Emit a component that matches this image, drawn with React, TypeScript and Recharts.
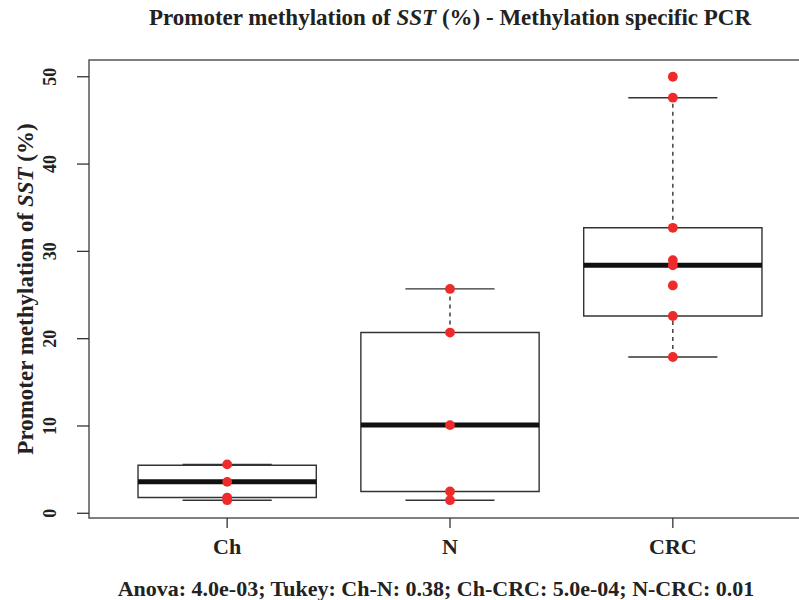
import {
  ScatterChart,
  Scatter,
  XAxis,
  YAxis,
  ReferenceArea,
  ReferenceLine,
  Label,
} from "recharts"

// groups and box statistics
const groups = ["Ch", "N", "CRC"]
const whiskerLow = [1.5, 1.5, 17.9]
const boxLow = [1.8, 2.5, 22.6]
const medians = [3.6, 10.1, 28.4]
const boxHigh = [5.5, 20.7, 32.7]
const whiskerHigh = [5.6, 25.7, 47.6]

// individual samples (red dots)
const chPoints = [5.6, 3.6, 1.8, 1.5]
const nPoints = [25.7, 20.7, 10.1, 2.5, 1.5]
const crcPoints = [50.0, 47.6, 32.7, 29.0, 28.4, 26.1, 22.6, 17.9]

const yTicks = [0, 10, 20, 30, 40, 50]
const xTicks = [1, 2, 3]

const X_DOMAIN: [number, number] = [0.38, 3.62]
const Y_DOMAIN: [number, number] = [-0.54, 51.92]
const BOX_HALF = 0.4
const CAP_HALF = 0.2

const FONT = "'Liberation Serif', 'Times New Roman', serif"
const INK = "#333"
const RED = "#ee2a2a"

const points = [chPoints, nPoints, crcPoints].flatMap((vals, gi) =>
  vals.map((v) => ({ x: gi + 1, y: v }))
)

const RedDot = ({ cx, cy }: any) => <circle cx={cx} cy={cy} r={4.9} fill={RED} />

const YTick = ({ x, y, payload }: any) => {
  const bx = x - 21
  return (
    <text
      x={bx}
      y={y}
      transform={`rotate(-90, ${bx}, ${y})`}
      textAnchor="middle"
      fontFamily={FONT}
      fontWeight="bold"
      fontSize={18}
      fill="#222"
    >
      {payload.value}
    </text>
  )
}

const YTitle = ({ viewBox }: any) => {
  const lx = viewBox.x + 33
  const ly = viewBox.y + viewBox.height / 2
  return (
    <text
      x={lx}
      y={ly}
      transform={`rotate(-90, ${lx}, ${ly})`}
      textAnchor="middle"
      fontFamily={FONT}
      fontWeight="bold"
      fontSize={23}
      fill="#222"
    >
      Promoter methylation of <tspan fontStyle="italic">SST</tspan> (%)
    </text>
  )
}

export default function App() {
  return (
    <div
      style={{
        position: "absolute",
        left: 0,
        top: 0,
        width: 799,
        height: 600,
        overflow: "hidden",
        background: "#fff",
        fontFamily: FONT,
      }}
    >
      <div
        style={{
          position: "absolute",
          left: 89,
          width: 722,
          top: 4,
          textAlign: "center",
          fontSize: 23,
          fontWeight: "bold",
          color: "#222",
          lineHeight: "28px",
        }}
      >
        Promoter methylation of <i>SST</i> (%) - Methylation specific PCR
      </div>

      <ScatterChart width={830} height={600} margin={{ top: 60, right: 19, bottom: 32, left: 0 }}>
        <XAxis
          type="number"
          dataKey="x"
          domain={X_DOMAIN}
          ticks={xTicks}
          allowDataOverflow
          axisLine={false}
          tickSize={10}
          tickMargin={10}
          height={50}
          tickLine={{ stroke: INK, strokeWidth: 1.3 }}
          tickFormatter={(v: number) => groups[v - 1]}
          tick={{ fill: "#222", fontSize: 22, fontWeight: "bold", fontFamily: FONT }}
        />
        <YAxis
          type="number"
          dataKey="y"
          domain={Y_DOMAIN}
          ticks={yTicks}
          allowDataOverflow
          axisLine={false}
          width={89}
          tickSize={12}
          tickMargin={0}
          tickLine={{ stroke: INK, strokeWidth: 1.3 }}
          tick={<YTick />}
        >
          <Label content={<YTitle />} />
        </YAxis>

        {/* plot frame */}
        <ReferenceArea
          x1={X_DOMAIN[0]}
          x2={X_DOMAIN[1]}
          y1={Y_DOMAIN[0]}
          y2={Y_DOMAIN[1]}
          fill="none"
          fillOpacity={0}
          stroke="#555"
          strokeWidth={1.5}
        />

        {groups.map((g, i) => {
          const c = i + 1
          return [
            <ReferenceArea
              key={`box-${g}`}
              x1={c - BOX_HALF}
              x2={c + BOX_HALF}
              y1={boxLow[i]}
              y2={boxHigh[i]}
              fill="#fff"
              fillOpacity={1}
              stroke={INK}
              strokeWidth={1.4}
            />,
            <ReferenceLine
              key={`wl-${g}`}
              segment={[{ x: c, y: whiskerLow[i] }, { x: c, y: boxLow[i] }]}
              stroke={INK}
              strokeWidth={1.4}
              strokeDasharray="4 4"
            />,
            <ReferenceLine
              key={`wh-${g}`}
              segment={[{ x: c, y: boxHigh[i] }, { x: c, y: whiskerHigh[i] }]}
              stroke={INK}
              strokeWidth={1.4}
              strokeDasharray="4 4"
            />,
            <ReferenceLine
              key={`cl-${g}`}
              segment={[{ x: c - CAP_HALF, y: whiskerLow[i] }, { x: c + CAP_HALF, y: whiskerLow[i] }]}
              stroke={INK}
              strokeWidth={1.4}
            />,
            <ReferenceLine
              key={`ch-${g}`}
              segment={[{ x: c - CAP_HALF, y: whiskerHigh[i] }, { x: c + CAP_HALF, y: whiskerHigh[i] }]}
              stroke={INK}
              strokeWidth={1.4}
            />,
            <ReferenceLine
              key={`med-${g}`}
              segment={[{ x: c - BOX_HALF, y: medians[i] }, { x: c + BOX_HALF, y: medians[i] }]}
              stroke="#111"
              strokeWidth={5}
            />,
          ]
        })}

        <Scatter data={points} shape={<RedDot />} isAnimationActive={false} />
      </ScatterChart>

      <div
        style={{
          position: "absolute",
          left: 0,
          width: 872,
          top: 576,
          textAlign: "center",
          fontSize: 22,
          fontWeight: "bold",
          color: "#222",
          lineHeight: "26px",
        }}
      >
        Anova: 4.0e-03; Tukey: Ch-N: 0.38; Ch-CRC: 5.0e-04; N-CRC: 0.01
      </div>
    </div>
  )
}
